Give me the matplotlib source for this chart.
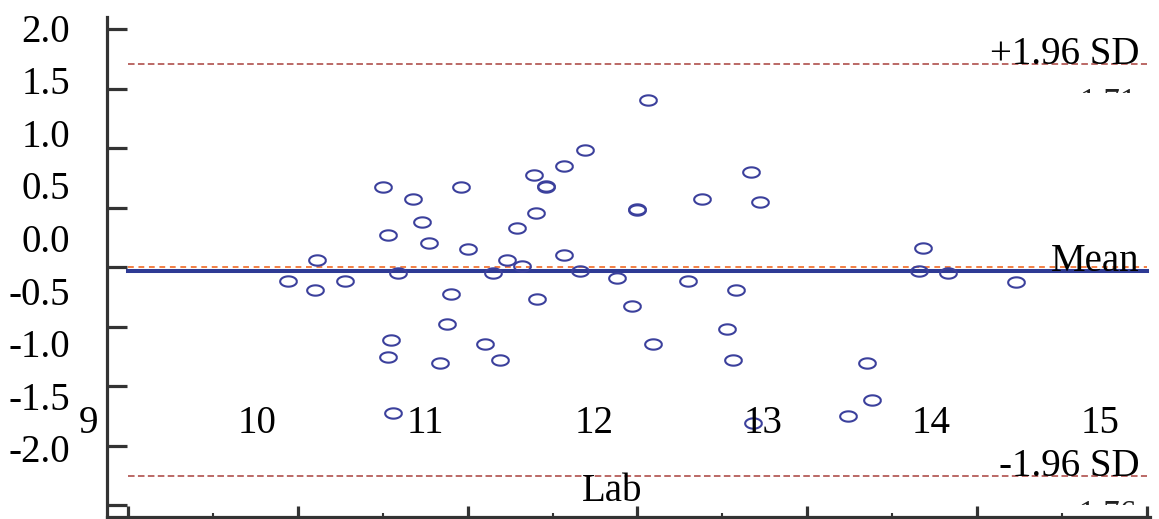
import matplotlib
matplotlib.use('Agg')
import matplotlib.pyplot as plt
import numpy as np
from matplotlib.path import Path
from matplotlib.transforms import Bbox, offset_copy

plt.rcParams['font.family'] = ['Liberation Serif', 'DejaVu Serif']

# mean of the two methods (x) and their difference (y)
x_vals = [9.94, 10.10, 10.11, 10.28, 10.50, 10.53, 10.55, 10.53, 10.56, 10.59,
          10.68, 10.73, 10.77, 10.84, 10.88, 10.90, 10.96, 11.00, 11.10, 11.15,
          11.19, 11.23, 11.29, 11.32, 11.39, 11.40, 11.41, 11.46, 11.46, 11.57,
          11.57, 11.66, 11.69, 11.88, 11.97, 12.00, 12.00, 12.06, 12.09, 12.30,
          12.38, 12.53, 12.56, 12.58, 12.67, 12.68, 12.72, 13.24, 13.35, 13.38,
          13.66, 13.68, 13.83, 14.23]
y_vals = [-0.12, -0.19, 0.06, -0.12, 0.67, 0.27, -0.61, -0.76, -1.23, -0.05,
          0.57, 0.38, 0.20, -0.81, -0.48, -0.23, 0.67, 0.15, -0.65, -0.05,
          -0.78, 0.06, 0.33, 0.01, 0.77, 0.45, -0.27, 0.67, 0.68, 0.85,
          0.10, -0.03, 0.98, -0.09, -0.33, 0.48, 0.49, 1.40, -0.65, -0.12,
          0.57, -0.52, -0.78, -0.19, 0.80, -1.31, 0.55, -1.25, -0.81, -1.12,
          -0.03, 0.16, -0.05, -0.13]

mean_diff = -0.03
upper_sd = 1.71
lower_sd = -1.76
x_ticks = [9, 10, 11, 12, 13, 14, 15]
y_ticks = [2.0, 1.5, 1.0, 0.5, 0.0, -0.5, -1.0, -1.5, -2.0]
y_labels = ['2.0', '1.5', '1.0', '0.5', '0.0', '-0.5', '-1.0', '-1.5', '-2.0']

W, H = 1159, 519
fig = plt.figure(figsize=(W / 100, H / 100), dpi=100)
rect = [107 / W, 2 / H, 1043 / W, 500 / H]
ax = fig.add_axes(rect)
# the tick labels of the original sit on a slightly shifted scale
ax_lab = fig.add_axes(rect, frameon=False)

ax.set_xlim(9 - 21 / 169.83, 9 + 1022 / 169.83)
ax.set_ylim(-2 - 12 / 119, 2 + 12 / 119)
ax_lab.set_xlim(9 + 19 / 168.67, 9 + 1062 / 168.67)
ax_lab.set_ylim(2 - 489.5 / 105.25, 2 + 10.5 / 105.25)

t = np.linspace(0, 2 * np.pi, 60)
ellipse = Path(np.column_stack([np.cos(t), 0.62 * np.sin(t)]))

ax.plot([9, 15], [upper_sd, upper_sd], color='#a8403c', lw=1.1, ls=(0, (4.3, 2.2)))
ax.plot([9, 15], [lower_sd, lower_sd], color='#a8403c', lw=1.1, ls=(0, (4.3, 2.2)))
ax.plot([9, 15], [0, 0], color='#f27536', lw=1.3, ls=(0, (3.2, 2.6)))
ax.plot([9, 15], [mean_diff, mean_diff], color='#2e3a94', lw=2.9)
ax.plot(x_vals, y_vals, ls='none', marker=ellipse, ms=12, mfc='none',
        mec='#3b409c', mew=1.5)

ax.text(0.990, upper_sd, '+1.96 SD', transform=ax.get_yaxis_transform(),
        ha='right', va='baseline', fontsize=28)
ax.text(0.990, mean_diff, 'Mean', transform=ax.get_yaxis_transform(),
        ha='right', va='baseline', fontsize=28)
ax.text(0.990, lower_sd, '-1.96 SD', transform=ax.get_yaxis_transform(),
        ha='right', va='baseline', fontsize=28)

# value labels under the limit lines are cut off, only their tops show
for val in [upper_sd, lower_sd]:
    y_disp = ax.transData.transform((9, val))[1]
    tr = offset_copy(ax.get_yaxis_transform(), fig=fig, x=-3, y=-47, units='dots')
    txt = ax.text(0.990, val, f'{val:.2f}', transform=tr, ha='right',
                  va='baseline', fontsize=23.5, color='#222222')
    txt.set_clip_box(Bbox.from_extents(1000, y_disp - 29, 1159, y_disp - 24))
    txt.set_clip_on(True)

for s in ['top', 'right']:
    ax.spines[s].set_visible(False)
for s in ['left', 'bottom']:
    ax.spines[s].set_linewidth(2.3)
    ax.spines[s].set_color('#333333')

ax.set_yticks(y_ticks)
ax.set_xticks(x_ticks)
ax.set_xticks(np.arange(9.5, 15, 1), minor=True)
ax.tick_params(axis='y', direction='in', length=14.4, width=2.3,
               color='#333333', labelleft=False)
ax.tick_params(axis='x', which='major', direction='in', length=8, width=2.3,
               color='#333333', labelbottom=False)
ax.tick_params(axis='x', which='minor', direction='in', length=3, width=1.5,
               color='#333333')

ax_lab.set_yticks(y_ticks, labels=y_labels)
ax_lab.tick_params(axis='y', length=0, pad=26.6, labelsize=28)
ax_lab.set_xticks([])
for v in x_ticks:
    ax_lab.text(v, 0.168, str(v), transform=ax_lab.get_xaxis_transform(),
                ha='center', va='baseline', fontsize=28)
ax_lab.text(0.484, 0.032, 'Lab', transform=ax_lab.transAxes,
            ha='center', va='baseline', fontsize=28)

fig.savefig('out.png', dpi=100)
